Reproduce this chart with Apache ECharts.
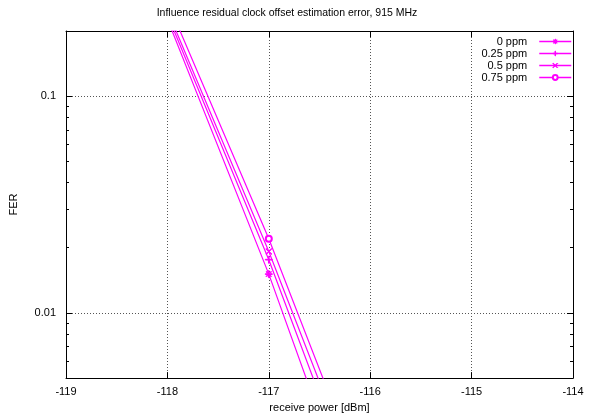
<!DOCTYPE html>
<html>
<head>
<meta charset="utf-8">
<script src="https://cdn.jsdelivr.net/npm/echarts@6/dist/echarts.min.js"></script>
<style>html,body{margin:0;padding:0;background:#fff}#c{width:599px;height:418px}</style>
</head>
<body>
<div id="c"></div>
<script>
const powers = [-118, -117, -116];
const fer0 = [0.227, 0.0151, 0.00075];
const fer025 = [0.238, 0.0176, 0.00099];
const fer05 = [0.249, 0.0192, 0.0012];
const fer075 = [0.274, 0.0220, 0.00137];
const seriesNames = ['0 ppm', '0.25 ppm', '0.5 ppm', '0.75 ppm'];
const xTicks = [-119, -118, -117, -116, -115, -114];
const yMajor = [0.01, 0.1];
const yMinor = [0.006, 0.007, 0.008, 0.009, 0.02, 0.03, 0.04, 0.05, 0.06, 0.07, 0.08, 0.09, 0.2];

const plusP = 'path://M-1,-10L1,-10L1,-1L10,-1L10,1L1,1L1,10L-1,10L-1,1L-10,1L-10,-1L-1,-1Z';
const crossP = 'path://M-8.5,-7.1L-7.1,-8.5L0,-1.4L7.1,-8.5L8.5,-7.1L1.4,0L8.5,7.1L7.1,8.5L0,1.4L-7.1,8.5L-8.5,7.1L-1.4,0Z';
const starP = 'path://M-1,-10L1,-10L1,-2.4L6.4,-7.8L7.8,-6.4L2.4,-1L10,-1L10,1L2.4,1L7.8,6.4L6.4,7.8L1,2.4L1,10L-1,10L-1,2.4L-6.4,7.8L-7.8,6.4L-2.4,1L-10,1L-10,-1L-2.4,-1L-7.8,-6.4L-6.4,-7.8L-1,-2.4Z';
const symbols = [starP, plusP, crossP, 'emptyCircle'];
const sizes = [7, 7, 6, 6];
const allFer = [fer0, fer025, fer05, fer075];
const MAG = '#ff00ff';
const FONT = 'Liberation Sans';

const chart = echarts.init(document.getElementById('c'), null, {renderer: 'canvas'});
const grid = {left: 62, right: 26, top: 31, bottom: 31, show: false};

const series = seriesNames.map((n, i) => ({
  name: n, type: 'line', xAxisIndex: 0, yAxisIndex: 0,
  data: powers.map((p, j) => [p, allFer[i][j]]),
  symbol: symbols[i], symbolSize: sizes[i], showSymbol: true, clip: true,
  lineStyle: {color: MAG, width: 1.2}, itemStyle: {color: MAG, borderColor: MAG, borderWidth: 1},
  animation: false
}));

const legends = seriesNames.map((n, i) => ({
  data: [n],
  right: 27, top: 36 + i * 12, orient: 'vertical', align: 'right',
  itemWidth: 32, itemHeight: 6, itemGap: 0, padding: 0,
  itemStyle: {borderWidth: 1},
  lineStyle: {width: 1.5, color: MAG},
  textStyle: {fontFamily: FONT, fontSize: 11, color: '#000', padding: [0, 7, 0, 0]}
}));

const dotted = {show: true, lineStyle: {color: '#555', type: [1, 2], width: 1}};

chart.setOption({
  animation: false,
  title: {text: 'Influence residual clock offset estimation error, 915 MHz', left: 282, top: 3, textAlign: 'center',
    textStyle: {fontFamily: FONT, fontSize: 10.5, fontWeight: 'normal', color: '#000'}},
  legend: legends,
  grid: grid,
  xAxis: [{
    type: 'value', min: -119, max: -114, interval: 1, position: 'bottom',
    name: 'receive power [dBm]', nameLocation: 'middle', nameGap: 21,
    nameTextStyle: {fontFamily: FONT, fontSize: 11, color: '#000'},
    axisLine: {show: true, onZero: false, lineStyle: {color: '#000', width: 1}},
    axisTick: {show: true, inside: true, length: 6, lineStyle: {color: '#000'}},
    axisLabel: {fontFamily: FONT, fontSize: 11, color: '#000', margin: 8, formatter: v => xTicks.includes(v) ? String(v) : ''},
    splitLine: dotted
  }, {
    type: 'value', min: -119, max: -114, interval: 1, position: 'top',
    axisLine: {show: true, onZero: false, lineStyle: {color: '#000', width: 1}},
    axisTick: {show: true, inside: true, length: 6, lineStyle: {color: '#000'}},
    axisLabel: {show: false}, splitLine: {show: false}
  }],
  yAxis: [{
    type: 'log', logBase: 10, min: 0.005, max: 0.2, position: 'left',
    name: 'FER', nameLocation: 'middle', nameGap: 47, nameRotate: 90,
    nameTextStyle: {fontFamily: FONT, fontSize: 11, color: '#000'},
    axisLine: {show: true, onZero: false, lineStyle: {color: '#000', width: 1}},
    axisTick: {show: true, inside: true, length: 6, customValues: yMajor, lineStyle: {color: '#000'}},
    axisLabel: {fontFamily: FONT, fontSize: 11, color: '#000', margin: 10, customValues: yMajor,
      formatter: v => (Math.abs(v - 0.1) < 1e-9 ? '0.1' : (Math.abs(v - 0.01) < 1e-9 ? '0.01' : ''))},
    splitLine: {show: true, lineStyle: {color: '#555', type: [1, 2], width: 1}}
  }, {
    type: 'log', logBase: 10, min: 0.005, max: 0.2, position: 'left',
    axisLine: {show: false},
    axisTick: {show: true, inside: true, length: 3, customValues: yMinor, lineStyle: {color: '#000'}},
    axisLabel: {show: false}, splitLine: {show: false}
  }, {
    type: 'log', logBase: 10, min: 0.005, max: 0.2, position: 'right',
    axisLine: {show: true, onZero: false, lineStyle: {color: '#000', width: 1}},
    axisTick: {show: true, inside: true, length: 6, customValues: yMajor, lineStyle: {color: '#000'}},
    axisLabel: {show: false}, splitLine: {show: false}
  }, {
    type: 'log', logBase: 10, min: 0.005, max: 0.2, position: 'right',
    axisLine: {show: false},
    axisTick: {show: true, inside: true, length: 3, customValues: yMinor, lineStyle: {color: '#000'}},
    axisLabel: {show: false}, splitLine: {show: false}
  }],
  series: series
});
</script>
</body>
</html>
